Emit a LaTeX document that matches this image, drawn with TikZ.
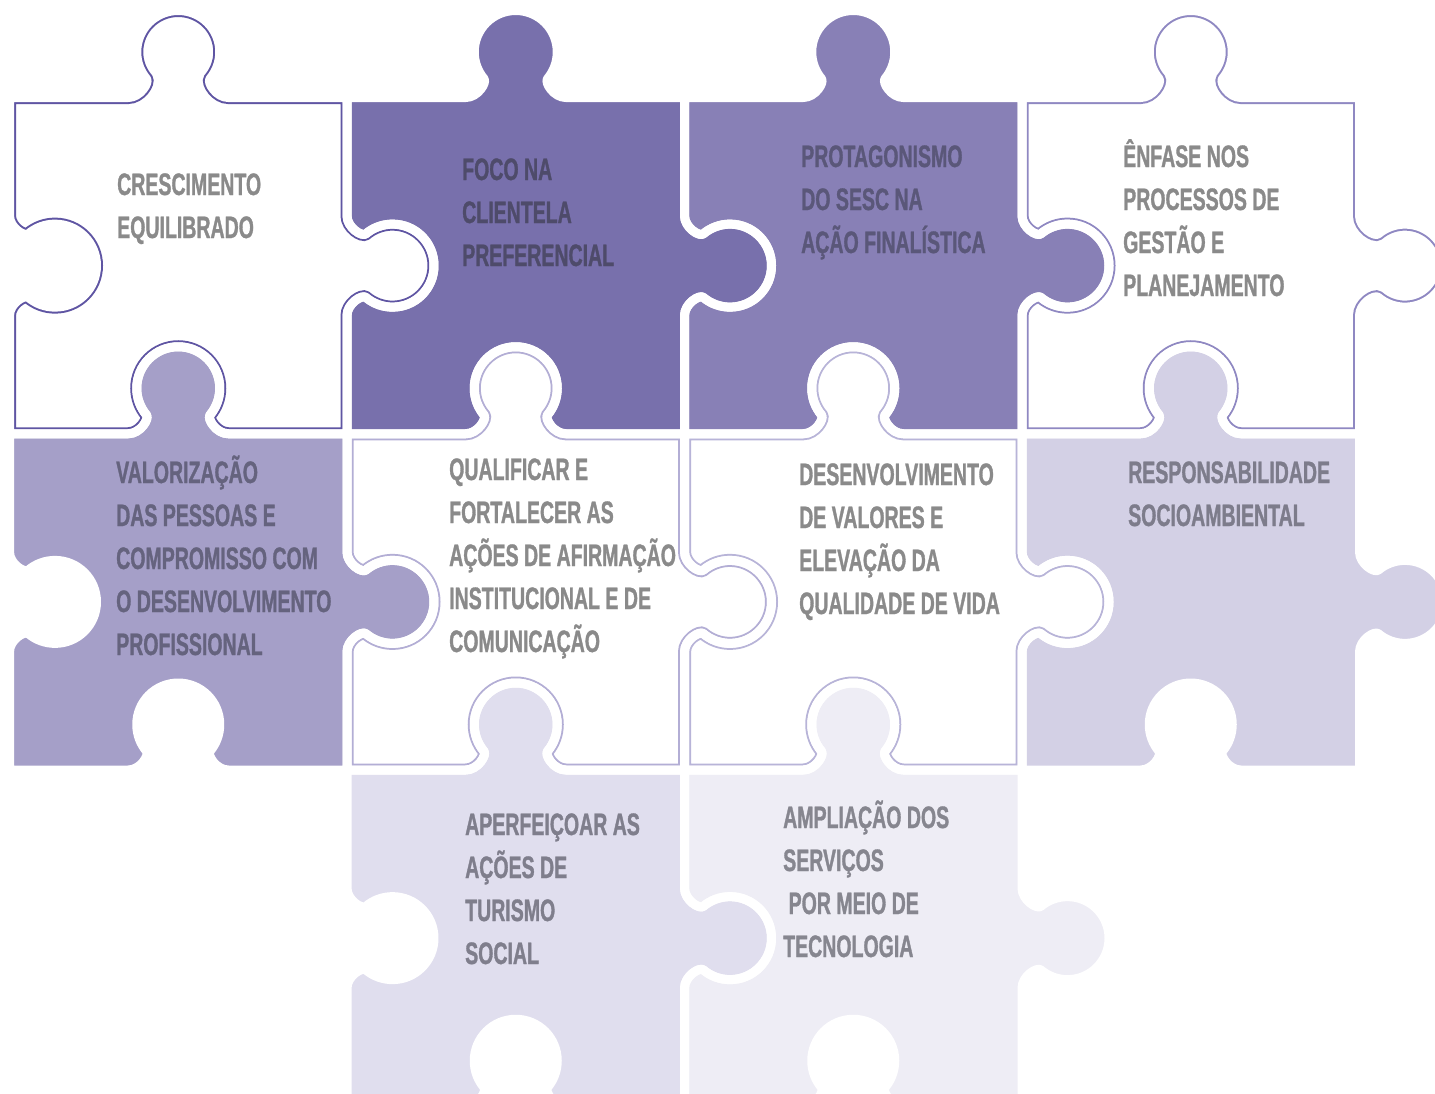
\documentclass[tikz,border=0pt]{standalone}
\usepackage{fontspec}
\newfontfamily\bebas[FakeStretch=0.63,FakeBold=1]{Liberation Sans}
\definecolor{rimA}{HTML}{5F55A3}
\definecolor{rimB}{HTML}{8F88C2}
\definecolor{rimC}{HTML}{B3AED5}
\definecolor{rimD}{HTML}{B8B4D8}
\definecolor{fillA}{HTML}{7870AC}
\definecolor{fillB}{HTML}{8880B6}
\definecolor{fillC}{HTML}{A59FC8}
\definecolor{fillD}{HTML}{D3D0E5}
\definecolor{fillE}{HTML}{E0DEEE}
\definecolor{fillF}{HTML}{EEEDF5}
\definecolor{txtW}{HTML}{8A8A8A}
\definecolor{txtA}{HTML}{4E4B6A}
\definecolor{txtB}{HTML}{5A5779}
\definecolor{txtC}{HTML}{65637E}
\definecolor{txtD}{HTML}{7D7C8B}
\definecolor{txtE}{HTML}{7F7E8C}
\definecolor{txtF}{HTML}{86868F}
% horizontal edge, bump pointing up (-y); #3 = direction (1 or -1)
\newcommand\bumpH[3]{%
 -- ({#1+(#3)*(-50)},{#2})
 .. controls ({#1+(#3)*(-38)},{#2}) and ({#1+(#3)*(-28.58)},{#2-14.99}) .. ({#1+(#3)*(-31.79)},{#2-18.82})
 .. controls ({#1+(#3)*(-38.06)},{#2-26.29}) and ({#1+(#3)*(-41.5)},{#2-35.74}) .. ({#1+(#3)*(-41.5)},{#2-45.5})
 .. controls ({#1+(#3)*(-41.5)},{#2-68.42}) and ({#1+(#3)*(-22.92)},{#2-87}) .. ({#1},{#2-87})
 .. controls ({#1+(#3)*(22.92)},{#2-87}) and ({#1+(#3)*(41.5)},{#2-68.42}) .. ({#1+(#3)*(41.5)},{#2-45.5})
 .. controls ({#1+(#3)*(41.5)},{#2-35.74}) and ({#1+(#3)*(38.06)},{#2-26.29}) .. ({#1+(#3)*(31.79)},{#2-18.82})
 .. controls ({#1+(#3)*(28.58)},{#2-14.99}) and ({#1+(#3)*(38)},{#2}) .. ({#1+(#3)*(50)},{#2})
}
% vertical edge, bump pointing right (+x); #3 = direction (1 down, -1 up)
\newcommand\bumpV[3]{%
 -- ({#1},{#2+(#3)*(-50)})
 .. controls ({#1},{#2+(#3)*(-38)}) and ({#1+14.99},{#2+(#3)*(-28.58)}) .. ({#1+18.82},{#2+(#3)*(-31.79)})
 .. controls ({#1+26.29},{#2+(#3)*(-38.06)}) and ({#1+35.74},{#2+(#3)*(-41.5)}) .. ({#1+45.5},{#2+(#3)*(-41.5)})
 .. controls ({#1+68.42},{#2+(#3)*(-41.5)}) and ({#1+87},{#2+(#3)*(-22.92)}) .. ({#1+87},{#2})
 .. controls ({#1+87},{#2+(#3)*(22.92)}) and ({#1+68.42},{#2+(#3)*(41.5)}) .. ({#1+45.5},{#2+(#3)*(41.5)})
 .. controls ({#1+35.74},{#2+(#3)*(41.5)}) and ({#1+26.29},{#2+(#3)*(38.06)}) .. ({#1+18.82},{#2+(#3)*(31.79)})
 .. controls ({#1+14.99},{#2+(#3)*(28.58)}) and ({#1},{#2+(#3)*(38)}) .. ({#1},{#2+(#3)*(50)})
}
\newcommand\piecepath[2]{(#1,#2) \bumpH{#1+168.75}{#2}{1} -- ({#1+337.5},{#2}) \bumpV{#1+337.5}{#2+168.125}{1} -- ({#1+337.5},{#2+336.25}) \bumpH{#1+168.75}{#2+336.25}{-1} -- ({#1},{#2+336.25}) \bumpV{#1}{#2+168.125}{-1} -- cycle}
\newcommand\rimpiece[3]{\begin{scope}\clip \piecepath{#1}{#2};\fill[white] \piecepath{#1}{#2};\draw[rim,draw=#3] \piecepath{#1}{#2};\end{scope}}
\begin{document}
\begin{tikzpicture}[x=1pt,y=-1pt,
  gapline/.style={draw=white,line width=9pt,line join=round},
  rim/.style={line width=13pt},
  lbl/.style={anchor=base west,inner sep=0pt,align=left,font=\bebas\bfseries\fontsize{31}{43}\selectfont}]
\useasboundingbox (0,0) rectangle (1435,1093);
\clip (0,0) rectangle (1435,1093);
\fill[white] (0,0) rectangle (1435,1093);
% row 1
\rimpiece{9.5}{97.5}{rimA}
\fill[fillA] \piecepath{347}{97.5};
\fill[fillB] \piecepath{684.5}{97.5};
\rimpiece{1022}{97.5}{rimB}
% row 2
\fill[fillC] \piecepath{9.5}{433.75};
\rimpiece{347}{433.75}{rimC}
\rimpiece{684.5}{433.75}{rimD}
\fill[fillD] \piecepath{1022}{433.75};
% row 3
\fill[fillE] \piecepath{347}{770};
\fill[fillF] \piecepath{684.5}{770};
% white gaps between pieces
\draw[gapline] \piecepath{9.5}{97.5};
\draw[gapline] \piecepath{347}{97.5};
\draw[gapline] \piecepath{684.5}{97.5};
\draw[gapline] \piecepath{1022}{97.5};
\draw[gapline] \piecepath{9.5}{433.75};
\draw[gapline] \piecepath{347}{433.75};
\draw[gapline] \piecepath{684.5}{433.75};
\draw[gapline] \piecepath{1022}{433.75};
\draw[gapline] \piecepath{347}{770};
\draw[gapline] \piecepath{684.5}{770};
% labels (anchor = baseline of the last line)
\node[lbl,text=txtW] (t1) at (117,238) {CRESCIMENTO\\EQUILIBRADO};
\node[lbl,text=txtA] (t2) at (462,266) {FOCO NA\\CLIENTELA\\PREFERENCIAL};
\node[lbl,text=txtB] (t3) at (801,253) {PROTAGONISMO\\DO SESC NA\\AÇÃO FINALÍSTICA};
\node[lbl,text=txtW] (t4) at (1123,296) {ÊNFASE NOS\\PROCESSOS DE\\GESTÃO E\\PLANEJAMENTO};
\node[lbl,text=txtC] (t5) at (116,655) {VALORIZAÇÃO\\DAS PESSOAS E\\COMPROMISSO COM\\O DESENVOLVIMENTO\\PROFISSIONAL};
\node[lbl,text=txtW] (t6) at (449,652) {QUALIFICAR E\\FORTALECER AS\\AÇÕES DE AFIRMAÇÃO\\INSTITUCIONAL E DE\\COMUNICAÇÃO};
\node[lbl,text=txtW] (t7) at (799,614) {DESENVOLVIMENTO\\DE VALORES E\\ELEVAÇÃO DA\\QUALIDADE DE VIDA};
\node[lbl,text=txtD] (t8) at (1128,526) {RESPONSABILIDADE\\SOCIOAMBIENTAL};
\node[lbl,text=txtE] (t9) at (465,964) {APERFEIÇOAR AS\\AÇÕES DE\\TURISMO\\SOCIAL};
\node[lbl,text=txtF] (t10) at (783,957) {AMPLIAÇÃO DOS\\SERVIÇOS\\\ POR MEIO DE\\TECNOLOGIA};
\end{tikzpicture}
\end{document}
